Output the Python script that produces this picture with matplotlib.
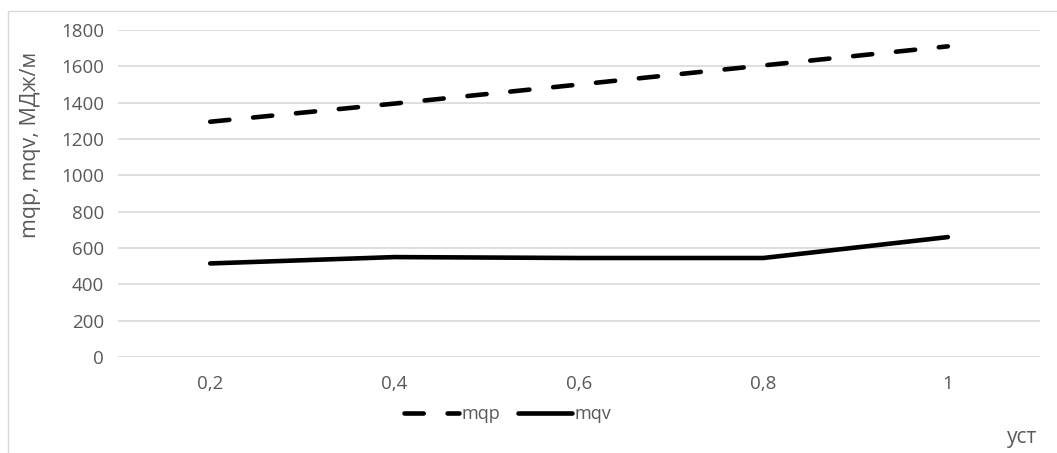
import matplotlib

matplotlib.use("Agg")
import matplotlib.pyplot as plt  # noqa: E402
from matplotlib.patches import Rectangle  # noqa: E402

plt.rcParams["font.family"] = ["Open Sans", "DejaVu Sans"]

categories = ["0,2", "0,4", "0,6", "0,8", "1"]
mqp = [1295, 1395, 1500, 1605, 1710]
mqv = [515, 550, 545, 545, 660]
y_ticks = [0, 200, 400, 600, 800, 1000, 1200, 1400, 1600, 1800]

TEXT = "#595959"
GRID = "#d9d9d9"

W, H = 1057, 453
fig = plt.figure(figsize=(W / 100, H / 100), dpi=100)

# outer chart border (runs off the right and bottom edges)
fig.patches.append(Rectangle((8 / W, -0.1), 1.2, 1 - 11 / H + 0.1,
                             transform=fig.transFigure, fill=False,
                             edgecolor=GRID, linewidth=1))

ax = fig.add_axes([118 / W, 1 - 357 / H, (1040 - 118) / W, (357 - 30) / H])

x = list(range(len(categories)))
ax.plot(x, mqp, color="black", linewidth=3.3, linestyle=(0, (4.2, 5.2)),
        dash_capstyle="round", label="mqp")
ax.plot(x, mqv, color="black", linewidth=3.3, solid_capstyle="round",
        label="mqv")

ax.set_xlim(-0.5, len(categories) - 0.5)
ax.set_ylim(0, 1800)
ax.set_yticks(y_ticks)
ax.set_xticks(x)
ax.set_xticklabels(categories)
ax.grid(axis="y", color=GRID, linewidth=1.2)
ax.set_axisbelow(True)
for s in ax.spines.values():
    s.set_visible(False)
ax.tick_params(length=0, labelsize=13.5, colors=TEXT)
ax.tick_params(axis="y", pad=10)
ax.tick_params(axis="x", pad=13)

fig.text(31 / W, 1 - 145 / H, "mqp, mqv, МДж/м", rotation=90,
         ha="center", va="center", fontsize=15.5, color=TEXT)
fig.text(1022 / W, 1 - 437 / H, "уст", ha="center", va="center",
         fontsize=15, color=TEXT)

fig.legend(loc="center", bbox_to_anchor=(508 / W, 1 - 414 / H), ncol=2,
           frameon=False, fontsize=13, handlelength=3.0, handletextpad=0.15,
           columnspacing=1.0, labelcolor=TEXT)

fig.savefig("out.png", dpi=100)
